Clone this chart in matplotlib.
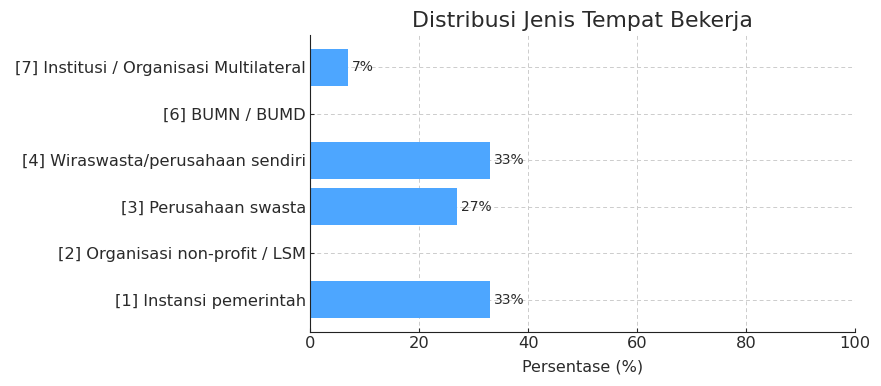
import matplotlib
matplotlib.use('Agg')
import matplotlib.pyplot as plt

# data
categories = [
    '[1] Instansi pemerintah',
    '[2] Organisasi non-profit / LSM',
    '[3] Perusahaan swasta',
    '[4] Wiraswasta/perusahaan sendiri',
    '[6] BUMN / BUMD',
    '[7] Institusi / Organisasi Multilateral',
]
percentages = [33, 0, 27, 33, 0, 7]
xticks = [0, 20, 40, 60, 80, 100]

TEXT = '#2a2a2a'

fig, ax = plt.subplots(figsize=(8.81, 3.86), dpi=100)
fig.subplots_adjust(left=0.352, right=0.9705, top=0.909, bottom=0.14)

bars = ax.barh(categories, percentages, color='#4da6ff', height=0.8, zorder=2)

for bar, val in zip(bars, percentages):
    if val > 0:
        ax.text(bar.get_width() + 0.7, bar.get_y() + bar.get_height() / 2,
                f'{val}%', va='center', ha='left', fontsize=10, color=TEXT)

ax.set_xlim(0, 100)
ax.set_xticks(xticks)
ax.set_xlabel('Persentase (%)', fontsize=11.5, color=TEXT, labelpad=6)
ax.set_title('Distribusi Jenis Tempat Bekerja', fontsize=15.8, color=TEXT)
ax.tick_params(axis='both', labelsize=11.7, colors=TEXT, direction='in',
               length=3, pad=3)
ax.grid(True, linestyle=(0, (4, 3)), color='#cccccc', linewidth=0.7, zorder=0)
ax.spines['top'].set_visible(False)
ax.spines['right'].set_visible(False)
for s in ('left', 'bottom'):
    ax.spines[s].set_color('#222222')

fig.savefig('out.png', dpi=100)
